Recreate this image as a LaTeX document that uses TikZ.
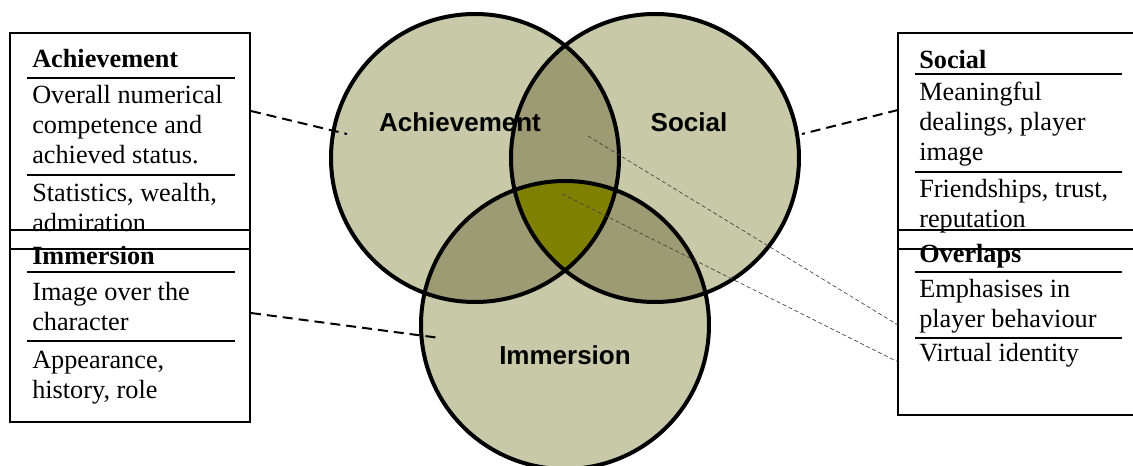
\documentclass[tikz,border=0pt]{standalone}
\usepackage{fontspec}
\setmainfont{Liberation Serif}
\newfontfamily\arialfont{Liberation Sans}
\usetikzlibrary{positioning}

\definecolor{vennone}{RGB}{200,201,168}
\definecolor{venntwo}{RGB}{157,155,116}
\definecolor{vennthree}{RGB}{128,128,0}

\tikzset{
  boxtext/.style={anchor=base west, align=left, inner sep=0pt,
    font=\fontsize{19.7}{22.6}\selectfont},
  boxtitle/.style={boxtext, font=\fontsize{19.7}{22.6}\selectfont\bfseries},
  venntext/.style={font=\arialfont\bfseries\fontsize{19.5}{22}\selectfont},
  longdash/.style={line width=1.5pt, dash pattern=on 7.5pt off 4.5pt},
  finedash/.style={line width=0.5pt, dash pattern=on 3pt off 2pt, black!75},
}

\begin{document}
\begin{tikzpicture}[x=0.75pt, y=-0.75pt]
\def\r{108pt}

\clip (0,0) rectangle (1133,466);

\coordinate (ca) at (475,158);
\coordinate (cs) at (655,158);
\coordinate (ci) at (565,325);

% circles and overlaps
\fill[vennone] (ca) circle (\r);
\fill[vennone] (cs) circle (\r);
\fill[vennone] (ci) circle (\r);
\begin{scope}
  \clip (ca) circle (\r);
  \fill[venntwo] (cs) circle (\r);
  \fill[venntwo] (ci) circle (\r);
  \clip (cs) circle (\r);
  \fill[vennthree] (ci) circle (\r);
\end{scope}
\begin{scope}
  \clip (cs) circle (\r);
  \fill[venntwo] (ci) circle (\r);
  \clip (ca) circle (\r);
  \fill[vennthree] (ci) circle (\r);
\end{scope}
\draw[line width=3pt] (ca) circle (\r);
\draw[line width=3pt] (cs) circle (\r);
\draw[line width=3pt] (ci) circle (\r);

\node[venntext] (la) at (460,122) {Achievement};
\node[venntext] (ls) at (689,122) {Social};
\node[venntext] (li) at (565,355) {Immersion};

% left boxes (text placed at the baseline of its last line)
\draw[line width=1.3pt] (10,33) rectangle (250,249);
\draw[line width=1.3pt] (10,230) rectangle (250,422);
\node[boxtitle] (ta) at (32,68) {Achievement};
\draw[line width=1.5pt] (27,78) -- (235,78);
\node[boxtext] (a1) at (32,164) {Overall numerical\\competence and\\achieved status.};
\draw[line width=1.5pt] (27,175) -- (235,175);
\node[boxtext] (a2) at (32,232) {Statistics, wealth,\\admiration};
\node[boxtitle] (ti) at (32,265) {Immersion};
\draw[line width=1.5pt] (27,272) -- (235,272);
\node[boxtext] (i1) at (32,331) {Image over the\\character};
\draw[line width=1.5pt] (27,341) -- (235,341);
\node[boxtext] (i2) at (32,399) {Appearance,\\history, role};

% right boxes
\draw[line width=1.3pt] (898,33) rectangle (1145,249);
\draw[line width=1.3pt] (898,230) rectangle (1145,415);
\node[boxtitle] (ts) at (919,69) {Social};
\draw[line width=1.5pt] (915,74) -- (1122,74);
\node[boxtext] (s1) at (919,161) {Meaningful\\dealings, player\\image};
\draw[line width=1.5pt] (915,172) -- (1122,172);
\node[boxtext] (s2) at (919,228) {Friendships, trust,\\reputation};
\node[boxtitle] (to) at (919,263) {Overlaps};
\draw[line width=1.5pt] (915,272) -- (1122,272);
\node[boxtext] (o1) at (919,328) {Emphasises in\\player behaviour};
\draw[line width=1.5pt] (915,338) -- (1122,338);
\node[boxtext] (o2) at (919,362) {Virtual identity};

% connectors
\coordinate (ab) at (251,111);
\coordinate (ae) at (347,134);
\coordinate (ib) at (251,313);
\coordinate (ie) at (440,338);
\coordinate (sb) at (898,110);
\coordinate (se) at (802,134);
\coordinate (pa) at (588,136);
\coordinate (pb) at (898,325);
\coordinate (qa) at (562,194);
\coordinate (qb) at (898,362);

\draw[longdash] (ab) -- (ae);
\draw[longdash] (ib) -- (ie);
\draw[longdash] (sb) -- (se);
\draw[finedash] (pa) -- (pb);
\draw[finedash] (qa) -- (qb);

\end{tikzpicture}
\end{document}
